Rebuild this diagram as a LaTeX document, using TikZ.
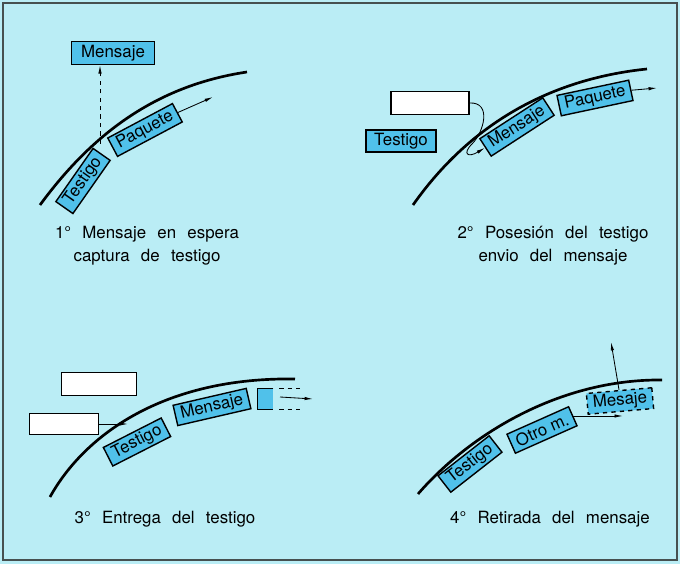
\documentclass[tikz,border=0pt]{standalone}
\usepackage{fontspec}
\setmainfont{TeX Gyre Heros}
\newfontfamily\capfont[WordSpace=2.4]{TeX Gyre Heros}
\usetikzlibrary{arrows.meta,calc}
\definecolor{fondo}{RGB}{186,237,245}
\definecolor{azul}{RGB}{80,193,234}
\definecolor{marco}{RGB}{70,80,80}
\tikzset{
  caja/.style={draw, fill=azul, line width=1pt, inner xsep=4pt, inner ysep=0pt, minimum height=.52cm, font=\fontsize{12}{14}\selectfont},
  hueco/.style={draw, fill=white, line width=1pt, inner sep=0pt},
  via/.style={line width=1.9pt},
  flecha/.style={-{Latex[length=6pt,width=2.4pt]}, line width=.6pt},
  pie/.style={align=center, font=\capfont\fontsize{12}{16.3}\selectfont}
}
\begin{document}
\begin{tikzpicture}[x=.025cm,y=.025cm]
\useasboundingbox (0,0) rectangle (680,564);
\fill[fondo] (0,0) rectangle (680,564);
\draw[marco, line width=1.2pt] (3,4) rectangle (677,561);
% 1: message waiting
\draw[via] (40,359) .. controls (95,434) and (160,479) .. (247,492);
\node[caja, rotate=55] (t1) at (83,383) {Testigo};
\node[caja, rotate=28] (q1) at (145,434) {Paquete};
\node[caja, minimum width=2.07cm, minimum height=.57cm] (m1) at (113,511) {Mensaje};
\coordinate (d1) at (100,420);
\coordinate (e1) at (213,467);
\draw[flecha] (q1.east) -- (e1);
\draw[flecha, dashed] (d1) -- (d1 |- m1.south);
\node[pie] (c1) at (147,318) {1° Mensaje en espera\\captura de testigo};
% 2: token held
\draw[via] (413,359) .. controls (470,440) and (550,485) .. (647,495);
\node[hueco, minimum width=1.95cm, minimum height=.575cm] (w2) at (430,461) {};
\node[caja, minimum width=1.75cm, minimum height=.55cm] (t2) at (401,423) {Testigo};
\node[caja, rotate=33] (ms2) at (517,437) {Mensaje};
\node[caja, rotate=12] (q2) at (595,466) {Paquete};
\coordinate (e2) at (657,476);
\draw[flecha] (q2.east) -- (e2);
\draw[flecha] (w2.east) .. controls (492,462) and (484,432) .. (472,420)
  .. controls (462,410) and (468,406) .. (ms2.west);
\node[pie] (c2) at (553,318) {2° Posesión del testigo\\envio del mensaje};
% 3: token handed over
\draw[via] (50,67) .. controls (85,130) and (165,187) .. (295,185);
\node[hueco, minimum width=1.87cm, minimum height=.575cm] (w3a) at (99,180) {};
\node[hueco, minimum width=1.72cm, minimum height=.53cm] (w3b) at (64,140) {};
\coordinate (e3) at (128,140);
\draw[flecha] (w3b.east) -- (e3);
\node[caja, rotate=27] (t3) at (137,122) {Testigo};
\node[caja, rotate=13] (ms3) at (212,157) {Mensaje};
\node[fill=azul, inner sep=0pt, minimum width=.375cm, minimum height=.5cm] (k3) at (265.5,165) {};
\draw[line width=1pt] (k3.north east) -- (k3.north west) -- (k3.south west) -- (k3.south east);
\draw[line width=1pt, dashed] ([xshift=.15cm]k3.north east) -- ++(22,0);
\draw[line width=1pt, dashed] ([xshift=.15cm]k3.south east) -- ++(22,0);
\coordinate (s3) at (280,167);
\coordinate (e3b) at (313,165);
\draw[flecha] (s3) -- (e3b);
\node[pie] (c3) at (165,45) {3° Entrega del testigo};
% 4: message removed
\draw[via] (418,70) .. controls (470,130) and (560,185) .. (662,184);
\node[caja, rotate=38] (t4) at (470,100) {Testigo};
\node[caja, rotate=24] (o4) at (542,134) {Otro m.};
\node[caja, dashed, rotate=5] (ms4) at (620,163) {Mesaje};
\coordinate (u4) at (611,222);
\coordinate (h4) at (623,0);
\draw[flecha] (ms4.north) -- (u4);
\draw[flecha] (o4.east) -- (o4.east -| h4);
\node[pie] (c4) at (550,45) {4° Retirada del mensaje};
\end{tikzpicture}
\end{document}
